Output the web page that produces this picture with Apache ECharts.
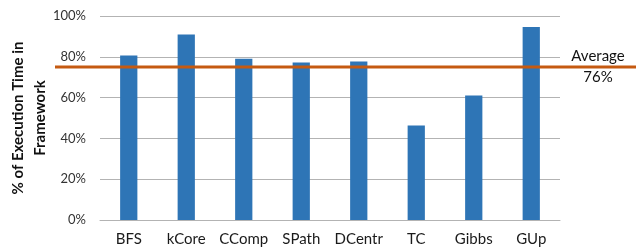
<!DOCTYPE html>
<html>
<head>
<meta charset="utf-8">
<script src="https://cdn.jsdelivr.net/npm/echarts@6/dist/echarts.min.js"></script>
<style>
  html, body { margin: 0; padding: 0; background: #fff; }
  #main { width: 636px; height: 252px; }
</style>
</head>
<body>
<div id="main"></div>
<script>
  // categories and values
  var categories = ['BFS', 'kCore', 'CComp', 'SPath', 'DCentr', 'TC', 'Gibbs', 'GUp'];
  var frameworkShare = [80.6, 90.9, 79.0, 77.2, 77.7, 46.3, 61.0, 94.6];
  var averageValue = 75;
  var averageLabel = 'Average\n76%';
  var yTicks = [0, 20, 40, 60, 80, 100];

  var font = 'Lato';

  var option = {
    animation: false,
    textStyle: { fontFamily: font },
    grid: [
      { left: 100, right: 76, top: 16, bottom: 32 },
      // second grid only carries the average line, which runs past the plot
      { left: 55, right: 0, top: 16, bottom: 32 }
    ],
    xAxis: [
      {
        type: 'category',
        gridIndex: 0,
        data: categories,
        axisLine: { lineStyle: { color: '#b3b3b3' } },
        axisTick: { show: false },
        axisLabel: { interval: 0, hideOverlap: false, color: '#1a1a1a', fontSize: 15, margin: 12, fontFamily: font }
      },
      {
        type: 'value',
        gridIndex: 1,
        min: 0,
        max: 1,
        show: false
      }
    ],
    yAxis: [
      {
        type: 'value',
        gridIndex: 0,
        min: yTicks[0],
        max: yTicks[yTicks.length - 1],
        interval: 20,
        axisLine: { show: false },
        axisTick: { show: false },
        splitLine: { lineStyle: { color: '#b3b3b3', width: 1 } },
        axisLabel: { color: '#333', fontSize: 13, margin: 14, formatter: '{value}%', fontFamily: font }
      },
      {
        type: 'value',
        gridIndex: 1,
        min: yTicks[0],
        max: yTicks[yTicks.length - 1],
        show: false
      }
    ],
    graphic: [
      {
        type: 'text',
        x: 29,
        y: 118,
        rotation: Math.PI / 2,
        style: {
          text: '% of Execution Time in\nFramework',
          font: 'bold 15px ' + font,
          fill: '#111',
          align: 'center',
          verticalAlign: 'middle',
          lineHeight: 22
        }
      },
      {
        type: 'text',
        x: 598,
        y: 67,
        style: {
          text: averageLabel,
          font: '15px ' + font,
          fill: '#111',
          align: 'center',
          verticalAlign: 'middle',
          lineHeight: 21
        }
      }
    ],
    series: [
      {
        type: 'bar',
        xAxisIndex: 0,
        yAxisIndex: 0,
        data: frameworkShare,
        barWidth: '30%',
        itemStyle: { color: '#2E75B6' }
      },
      {
        type: 'line',
        xAxisIndex: 1,
        yAxisIndex: 1,
        data: [[0, averageValue], [1, averageValue]],
        symbol: 'none',
        z: 5,
        lineStyle: { color: '#C55A11', width: 3 }
      }
    ]
  };

  var myChart = echarts.init(document.getElementById('main'));
  myChart.setOption(option);
</script>
</body>
</html>
